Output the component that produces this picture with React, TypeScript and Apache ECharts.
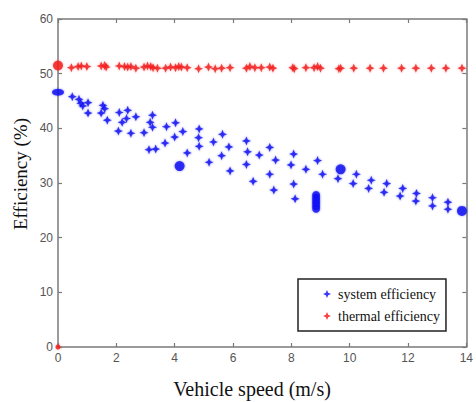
import React, { useEffect, useRef } from "react";
import * as echarts from "echarts";

// Vehicle speed (m/s) vs efficiency (%)
const systemPoints: [number, number][] = [
  [0.49, 45.8], [0.72, 45.3], [0.78, 44.6], [0.85, 44.1], [1.03, 44.7], [1.03, 42.8],
  [1.48, 42.8], [1.54, 44.2], [1.6, 43.6], [1.69, 41.5], [2.1, 42.9], [2.39, 43.3],
  [2.2, 41.1], [2.35, 41.8], [2.67, 42.1], [2.07, 39.5], [2.5, 39.1], [2.95, 39.2],
  [3.24, 42.4], [3.16, 41.1], [3.24, 40.2], [3.12, 36.1], [3.35, 36.2], [3.72, 40.3],
  [4.03, 41.0], [3.67, 37.3], [4.0, 38.4], [4.28, 39.4], [4.43, 35.5], [4.84, 39.9],
  [4.82, 38.3], [4.84, 36.7], [5.33, 37.5], [5.18, 33.8], [5.64, 38.9], [5.86, 36.6],
  [5.61, 35.0], [5.9, 32.2], [6.46, 37.7], [6.5, 35.7], [6.46, 33.4], [6.69, 30.3],
  [6.9, 35.1], [7.26, 36.5], [7.46, 34.2], [7.26, 31.6], [7.4, 28.7], [8.08, 35.3],
  [7.99, 33.3], [8.08, 29.8], [8.13, 27.1], [8.5, 32.5], [8.9, 34.1], [9.07, 31.6],
  [9.6, 30.8], [10.23, 31.6], [10.12, 29.9], [10.74, 30.5], [10.65, 29.0], [11.27, 29.9],
  [11.18, 28.3], [11.82, 29.0], [11.73, 27.6], [12.29, 28.1], [12.27, 26.7], [12.84, 27.3],
  [12.84, 25.8], [13.37, 26.5], [13.37, 25.2],
];
// repeated measurements that pile up into solid blobs
const systemClusters: [number, number][] = [
  [4.17, 33.1], [9.69, 32.5], [13.85, 24.9],
];
const systemStack: [number, number][] = [
  [8.85, 25.3], [8.85, 25.8], [8.85, 26.3], [8.85, 26.8], [8.85, 27.3], [8.85, 27.8],
];
const systemStart: [number, number] = [0, 46.6];

const thermalPoints: [number, number][] = [
  [0.46, 51.1], [0.69, 51.3], [0.8, 51.4], [0.99, 51.3], [1.48, 51.4], [1.6, 51.5],
  [1.65, 51.2], [2.1, 51.4], [2.28, 51.3], [2.39, 51.2], [2.5, 51.3], [2.67, 51.0],
  [2.95, 51.2], [3.07, 51.4], [3.18, 51.3], [3.26, 51.1], [3.41, 51.0], [3.69, 51.0],
  [3.86, 51.2], [4.03, 51.1], [4.14, 51.3], [4.23, 51.2], [4.43, 51.1], [4.82, 50.9],
  [5.16, 51.2], [5.39, 50.9], [5.61, 51.0], [5.9, 51.1], [6.46, 51.0], [6.58, 51.3],
  [6.75, 51.1], [6.97, 51.1], [7.26, 51.2], [7.37, 51.0], [8.05, 51.1], [8.1, 50.9],
  [8.5, 51.1], [8.78, 51.1], [8.9, 51.3], [9.0, 51.0], [9.63, 50.9], [9.69, 51.0],
  [10.14, 51.0], [10.7, 51.0], [11.16, 51.0], [11.78, 51.0], [12.27, 51.0], [12.8, 51.0],
  [13.3, 51.0], [13.85, 51.0],
];
const thermalStart: [number, number] = [0, 51.5];
const thermalOrigin: [number, number] = [0, 0];

const xTicks = { min: 0, max: 14, interval: 2 };
const yTicks = { min: 0, max: 60, interval: 10 };
const xTitle = "Vehicle speed (m/s)";
const yTitle = "Efficiency (%)";

const STAR = "path://M0,-10 L3,-3 L10,0 L3,3 L0,10 L-3,3 L-10,0 L-3,-3 Z";
const BLUE = "#0a0af0";
const RED = "#f01818";
const AXIS = "#7a7a7a";
const SERIF = "Liberation Serif, Times New Roman, serif";

export default function App() {
  const ref = useRef<HTMLDivElement>(null);

  useEffect(() => {
    if (!ref.current) return;
    const chart = echarts.init(ref.current, null, { renderer: "svg" });

    const axisBase = {
      type: "value" as const,
      axisLine: { show: true, onZero: false, lineStyle: { color: AXIS, width: 1.5 } },
      axisTick: { show: true, inside: true, length: 4, lineStyle: { color: AXIS, width: 1.2 } },
      splitLine: { show: false },
    };
    const tickLabel = {
      color: "#555",
      fontFamily: "Liberation Sans, Arial, sans-serif",
      fontSize: 12,
    };

    chart.setOption({
      animation: false,
      backgroundColor: "#fff",
      grid: { left: 58, top: 19, right: 6, bottom: 55 },
      xAxis: [
        { ...axisBase, ...xTicks, position: "bottom", axisLabel: { ...tickLabel, margin: 5 } },
        { ...axisBase, ...xTicks, position: "top", axisLabel: { show: false } },
      ],
      yAxis: [
        { ...axisBase, ...yTicks, position: "left", axisLabel: { ...tickLabel, margin: 5 } },
        { ...axisBase, ...yTicks, position: "right", axisLabel: { show: false } },
      ],
      graphic: [
        {
          type: "text",
          x: 252,
          y: 389,
          style: {
            text: xTitle,
            fill: "#111",
            font: `20px ${SERIF}`,
            align: "center",
            verticalAlign: "middle",
          },
        },
        {
          type: "text",
          x: 20,
          y: 174,
          rotation: Math.PI / 2,
          style: {
            text: yTitle,
            fill: "#111",
            font: `19px ${SERIF}`,
            align: "center",
            verticalAlign: "middle",
          },
        },
      ],
      legend: {
        orient: "vertical",
        left: 298,
        top: 279,
        padding: [8, 6, 8, 25],
        itemGap: 8,
        itemWidth: 12,
        itemHeight: 8,
        borderColor: "#222",
        borderWidth: 1.5,
        backgroundColor: "#fff",
        textStyle: { color: "#111", fontFamily: SERIF, fontSize: 14 },
        data: [
          { name: "system efficiency", icon: STAR },
          { name: "thermal efficiency", icon: STAR },
        ],
      },
      series: [
        {
          name: "system efficiency",
          type: "scatter",
          symbol: STAR,
          symbolSize: 9,
          itemStyle: { color: BLUE, shadowBlur: 2, shadowColor: "rgba(40,40,255,0.6)" },
          data: [
            ...systemPoints,
            ...systemStack.map((p) => ({ value: p, symbol: "circle", symbolSize: 8 })),
            ...systemClusters.map((p) => ({ value: p, symbol: "circle", symbolSize: 10 })),
            { value: systemStart, symbol: "circle", symbolSize: [12, 7] },
          ],
        },
        {
          name: "thermal efficiency",
          type: "scatter",
          symbol: STAR,
          symbolSize: 9,
          itemStyle: { color: RED, shadowBlur: 2, shadowColor: "rgba(255,60,60,0.6)" },
          data: [
            ...thermalPoints,
            { value: thermalStart, symbol: "circle", symbolSize: 10 },
            { value: thermalOrigin, symbol: "circle", symbolSize: 5 },
          ],
        },
      ],
    });

    return () => chart.dispose();
  }, []);

  return (
    <div
      ref={ref}
      style={{ position: "fixed", left: 0, top: 0, width: 476, height: 402 }}
    />
  );
}
